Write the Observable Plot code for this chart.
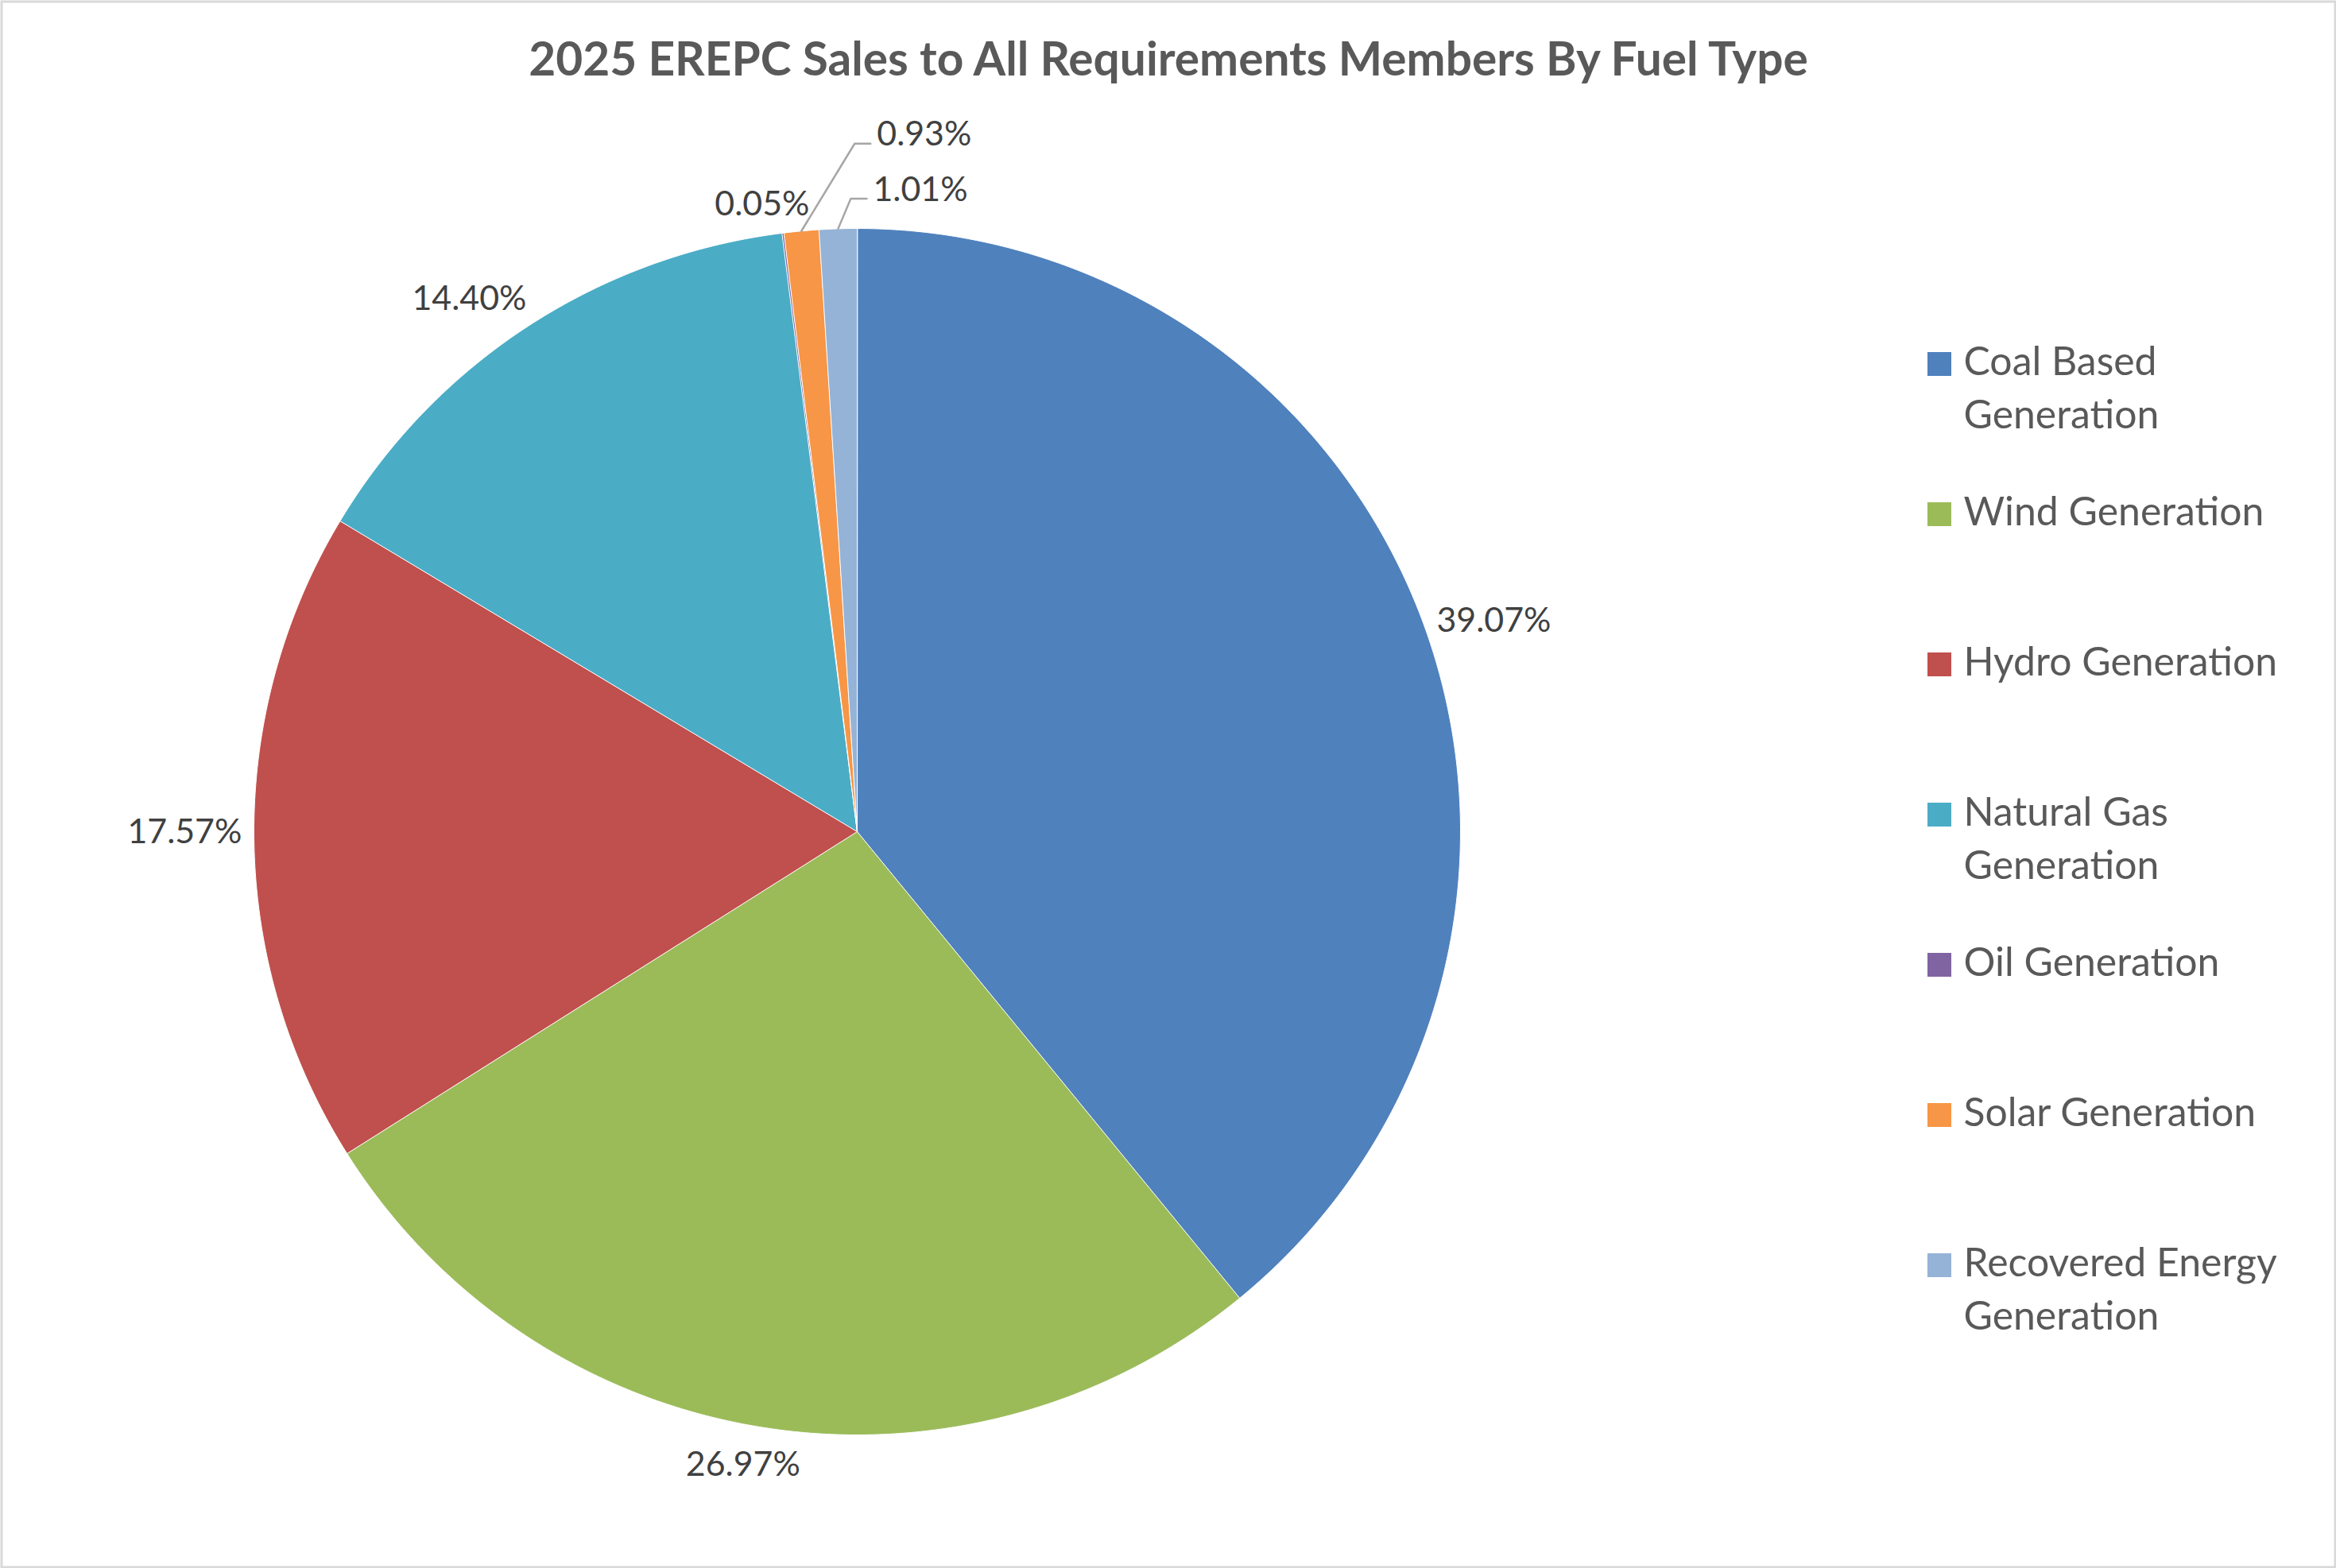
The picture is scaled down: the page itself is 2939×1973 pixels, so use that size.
<!DOCTYPE html>
<html><head><meta charset="utf-8">
<script src="https://cdn.jsdelivr.net/npm/d3@7"></script>
<script src="https://cdn.jsdelivr.net/npm/@observablehq/plot@0.6"></script>
<style>html,body{margin:0;padding:0;background:#fff;overflow:hidden}</style>
</head><body><div id="chart"></div>
<script>
// ---- data ----
const title = "2025 EREPC Sales to All Requirements Members By Fuel Type";
const categories = ["Coal Based Generation", "Wind Generation", "Hydro Generation", "Natural Gas Generation", "Oil Generation", "Solar Generation", "Recovered Energy Generation"];
const shares = [39.07, 26.97, 17.57, 14.40, 0.05, 0.93, 1.01];
const colors = ["#4F81BD", "#9BBB59", "#C0504D", "#4BACC6", "#8064A2", "#F79646", "#95B3D7"];

// ---- layout ----
const W = 2939, H = 1973;
const cx = 1078, cy = 1046, R = 759;
const labelGap = 15, labelHalfH = 20;
const labelNudge = {
  "Coal Based Generation": [2, 20],
  "Wind Generation": [-15, 2],
  "Hydro Generation": [0, -9],
  "Natural Gas Generation": [-35, 25],
  "Oil Generation": [-21, 6]
};
const leaderElbow = {
  "Solar Generation": [67, -110],
  "Recovered Energy Generation": [16, -38]
};
const leaderRun = 20;
const legendX = 2425, legendSwatch = 30, legendTextX = 2470, legendTop = 456, legendStep = 189, legendLine = 67, legendWrap = 430;

// ---- font fitting ----
const ctx = document.createElement("canvas").getContext("2d");
function widthAt(text, weight, size) { ctx.font = `${weight} ${size}px Lato`; return ctx.measureText(text).width; }
const titleSize = 100 * 1615 / widthAt(title, "bold", 100);
const legendSize = 100 * 378 / widthAt("Wind Generation", "normal", 100);
const labelSize = 100 * 144 / widthAt("26.97%", "normal", 100);

const rows = categories.map((cat, i) => ({cat, value: shares[i], color: colors[i]}));
const arcs = d3.pie().sort(null).value(d => d.value)(rows);
const fmt = v => d3.format(".2f")(v) + "%";

// slices
const slicePts = arcs.flatMap(a => {
  const n = Math.max(2, Math.ceil((a.endAngle - a.startAngle) * 180 / Math.PI * 2));
  const pts = [{cat: a.data.cat, x: cx, y: cy}];
  for (let i = 0; i <= n; i++) {
    const t = a.startAngle + (a.endAngle - a.startAngle) * i / n;
    pts.push({cat: a.data.cat, x: cx + R * Math.sin(t), y: cy - R * Math.cos(t)});
  }
  return pts;
});

// labels
const midLabels = [], startLabels = [], leaderPts = [];
for (const a of arcs) {
  const cat = a.data.cat, m = (a.startAngle + a.endAngle) / 2;
  const s = Math.sin(m), c = Math.cos(m);
  const text = fmt(a.data.value);
  if (leaderElbow[cat]) {
    const p0 = {x: cx + R * s, y: cy - R * c};
    const [ex, ey] = leaderElbow[cat];
    const p1 = {x: p0.x + ex, y: p0.y + ey};
    const p2 = {x: p1.x + leaderRun, y: p1.y};
    leaderPts.push({cat, ...p0}, {cat, ...p1}, {cat, ...p2});
    startLabels.push({text, x: p2.x + 8, y: p2.y - 11});
  } else {
    const hw = widthAt(text, "normal", labelSize) / 2;
    const t = R + labelGap + hw * Math.abs(s) + labelHalfH * Math.abs(c);
    const [nx, ny] = labelNudge[cat] || [0, 0];
    midLabels.push({text, x: cx + t * s + nx, y: cy - t * c + ny});
  }
}

// legend
const legendSwatches = [], legendTexts = [];
categories.forEach((cat, i) => {
  const y0 = legendTop + i * legendStep;
  legendSwatches.push({cat, x1: legendX, x2: legendX + legendSwatch, y1: y0 - legendSwatch / 2 + 2, y2: y0 + legendSwatch / 2 + 2});
  let lines = [cat];
  if (widthAt(cat, "normal", legendSize) > legendWrap) {
    const k = cat.lastIndexOf(" ");
    lines = [cat.slice(0, k), cat.slice(k + 1)];
  }
  lines.forEach((ln, j) => legendTexts.push({text: ln, x: legendTextX, y: y0 + j * legendLine}));
});

const chart = Plot.plot({
  width: W, height: H, margin: 0,
  x: {domain: [0, W], range: [0, W], axis: null},
  y: {domain: [0, H], range: [0, H], axis: null},
  color: {domain: categories, range: colors},
  style: {fontFamily: "Lato", background: "#fff"},
  marks: [
    Plot.frame({stroke: "#d9d9d9", strokeWidth: 3, inset: 1.5}),
    Plot.text([title], {x: () => W / 2, y: () => 76, text: d => d, fontSize: titleSize, fontWeight: "bold", fill: "#595959"}),
    Plot.line(slicePts, {x: "x", y: "y", z: "cat", fill: "cat", stroke: "#fff", strokeWidth: 1, curve: "linear-closed"}),
    Plot.line(leaderPts, {x: "x", y: "y", z: "cat", stroke: "#a6a6a6", strokeWidth: 2.5}),
    Plot.text(midLabels, {x: "x", y: "y", text: "text", fontSize: labelSize, fill: "#404040", textAnchor: "middle"}),
    Plot.text(startLabels, {x: "x", y: "y", text: "text", fontSize: labelSize, fill: "#404040", textAnchor: "start"}),
    Plot.rect(legendSwatches, {x1: "x1", x2: "x2", y1: "y1", y2: "y2", fill: "cat"}),
    Plot.text(legendTexts, {x: "x", y: "y", text: "text", fontSize: legendSize, fill: "#595959", textAnchor: "start"})
  ]
});
document.getElementById("chart").appendChild(chart);
</script>
</body></html>
